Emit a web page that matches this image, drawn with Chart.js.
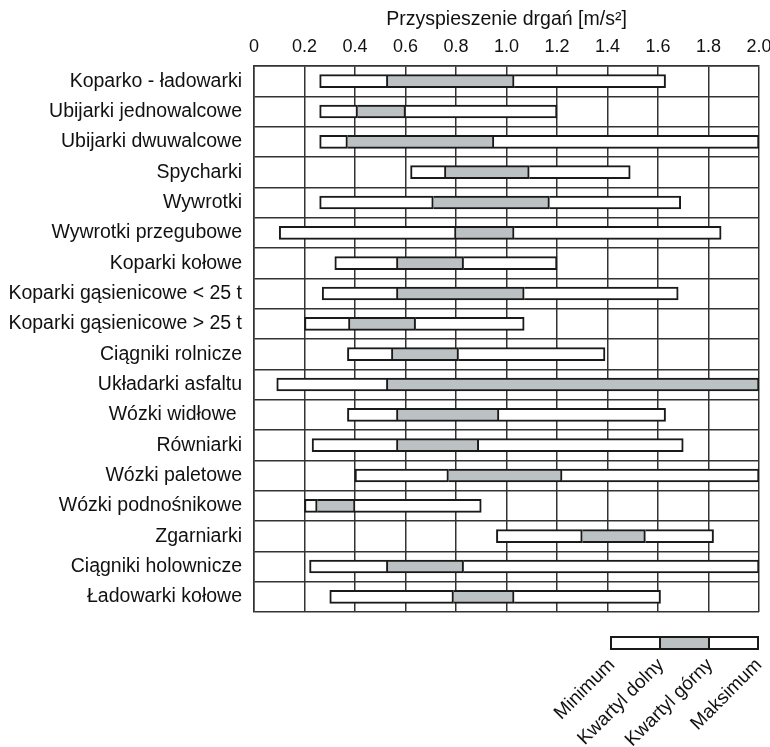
<!DOCTYPE html>
<html>
<head>
<meta charset="utf-8">
<script src="https://cdn.jsdelivr.net/npm/chart.js@4"></script>
<style>
  html, body { margin: 0; padding: 0; background: #ffffff; }
  #wrap { width: 770px; height: 747px; }
</style>
</head>
<body>
<div id="wrap"><canvas id="boxChart" width="770" height="747"></canvas></div>
<script>
// Categories (top to bottom)
var machines = [
  'Koparko - ładowarki', 'Ubijarki jednowalcowe', 'Ubijarki dwuwalcowe', 'Spycharki',
  'Wywrotki', 'Wywrotki przegubowe', 'Koparki kołowe', 'Koparki gąsienicowe < 25 t',
  'Koparki gąsienicowe > 25 t', 'Ciągniki rolnicze', 'Układarki asfaltu', 'Wózki widłowe ',
  'Równiarki', 'Wózki paletowe', 'Wózki podnośnikowe', 'Zgarniarki',
  'Ciągniki holownicze', 'Ładowarki kołowe'
];

// Vibration acceleration statistics [m/s2]
var minimum = [0.26, 0.26, 0.26, 0.62, 0.26, 0.10, 0.32, 0.27, 0.20, 0.37, 0.09, 0.37, 0.23, 0.40, 0.20, 0.96, 0.22, 0.30];
var lowerQ  = [0.53, 0.41, 0.37, 0.76, 0.71, 0.80, 0.57, 0.57, 0.38, 0.55, 0.53, 0.57, 0.57, 0.77, 0.25, 1.30, 0.53, 0.79];
var upperQ  = [1.03, 0.60, 0.95, 1.09, 1.17, 1.03, 0.83, 1.07, 0.64, 0.81, 2.00, 0.97, 0.89, 1.22, 0.40, 1.55, 0.83, 1.03];
var maximum = [1.63, 1.20, 2.00, 1.49, 1.69, 1.85, 1.20, 1.68, 1.07, 1.39, 2.00, 1.63, 1.70, 2.00, 0.90, 1.82, 2.00, 1.61];

// X axis
var axisMin = 0;
var axisMax = 2.0;
var axisStep = 0.2;
var axisTitle = 'Przyspieszenie drgań [m/s²]';

// Key below the chart
var keyLabels = ['Minimum', 'Kwartyl dolny', 'Kwartyl górny', 'Maksimum'];

var GRAY = '#bcc1c3';
var LINE = '#1a1a1a';
var GRID = '#333333';
var FONT = "'Liberation Sans', Arial, sans-serif";

function pairs(a, b) {
  return a.map(function (v, i) { return [v, b[i]]; });
}

// draws the little key (min / quartiles / max) under the plot
var keyPlugin = {
  id: 'boxKey',
  afterDraw: function (chart) {
    var ctx = chart.ctx;
    var x0 = 611, y0 = 637, w = 49, h = 12;
    var fills = ['#ffffff', GRAY, '#ffffff'];
    ctx.save();
    for (var i = 0; i < 3; i++) {
      ctx.fillStyle = fills[i];
      ctx.fillRect(x0 + i * w, y0, w, h);
    }
    ctx.strokeStyle = LINE;
    ctx.lineWidth = 2;
    ctx.strokeRect(x0, y0, w * 3, h);
    ctx.beginPath();
    ctx.moveTo(x0 + w, y0); ctx.lineTo(x0 + w, y0 + h);
    ctx.moveTo(x0 + 2 * w, y0); ctx.lineTo(x0 + 2 * w, y0 + h);
    ctx.stroke();

    ctx.fillStyle = '#111';
    ctx.font = '19px ' + FONT;
    ctx.textAlign = 'right';
    ctx.textBaseline = 'middle';
    keyLabels.forEach(function (txt, i) {
      ctx.save();
      ctx.translate(x0 + i * w + 1, y0 + h + 13);
      ctx.rotate(-Math.PI / 4);
      ctx.fillText(txt, 0, 0);
      ctx.restore();
    });
    ctx.restore();
  }
};

var common = {
  borderColor: LINE,
  borderWidth: 2,
  barThickness: 13,
  grouped: false
};

var ctx = document.getElementById('boxChart').getContext('2d');
var chart = new Chart(ctx, {
  type: 'bar',
  data: {
    labels: machines,
    datasets: [
      Object.assign({ label: 'min-Q1', data: pairs(minimum, lowerQ), backgroundColor: '#ffffff', borderSkipped: false }, common),
      Object.assign({ label: 'Q1-Q3', data: pairs(lowerQ, upperQ), backgroundColor: GRAY, borderSkipped: 'left' }, common),
      Object.assign({ label: 'Q3-max', data: pairs(upperQ, maximum), backgroundColor: '#ffffff', borderSkipped: 'left' }, common)
    ]
  },
  options: {
    indexAxis: 'y',
    responsive: false,
    animation: false,
    layout: { padding: { left: 0, right: 11, top: 0, bottom: 135 } },
    plugins: {
      legend: { display: false },
      tooltip: { enabled: false }
    },
    scales: {
      x: {
        position: 'top',
        min: axisMin,
        max: axisMax,
        border: { display: true, color: GRID, width: 1.5 },
        grid: { color: GRID, lineWidth: 1.5, drawTicks: false },
        ticks: {
          stepSize: axisStep,
          color: '#111',
          padding: 8,
          maxRotation: 0,
          font: { family: FONT, size: 18 },
          callback: function (v) { return v === 0 ? '0' : Number(v).toFixed(1); }
        },
        title: {
          display: true,
          text: axisTitle,
          color: '#111',
          padding: { top: 8, bottom: 0 },
          font: { family: FONT, size: 19.5 }
        },
        afterFit: function (scale) {
          scale.height = 66;
          scale.paddingLeft = 0;
          scale.paddingRight = 0;
        }
      },
      y: {
        border: { display: true, color: GRID, width: 1.5 },
        grid: { color: GRID, lineWidth: 1.5, drawTicks: false },
        ticks: {
          color: '#111',
          padding: 12,
          font: { family: FONT, size: 19.5 }
        },
        afterFit: function (scale) {
          scale.width = 254;
        }
      }
    }
  },
  plugins: [keyPlugin]
});
</script>
</body>
</html>
